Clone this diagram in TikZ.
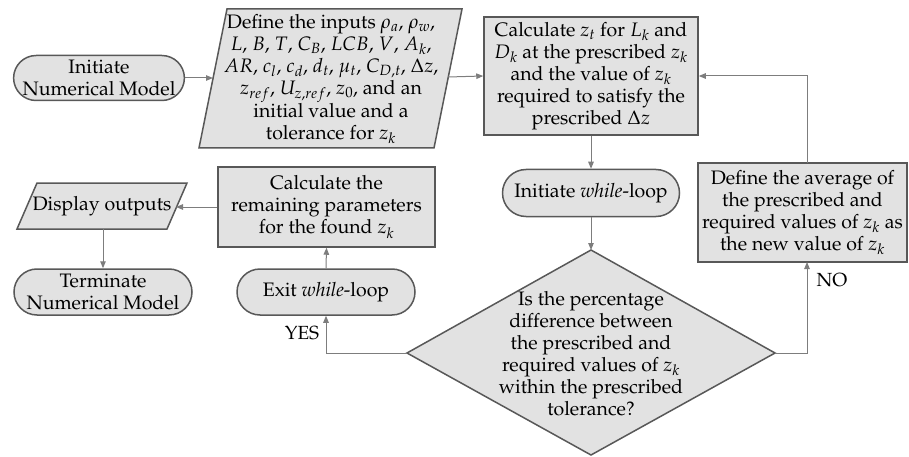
\documentclass[tikz,border=0pt]{standalone}
\usepackage[T1]{fontenc}
\usepackage{mathpazo}
\usetikzlibrary{shapes.misc,arrows.meta}
\definecolor{boxfill}{RGB}{226,226,226}
\definecolor{boxline}{RGB}{88,88,88}
\definecolor{conn}{RGB}{125,125,125}
\begin{document}
\begin{tikzpicture}[x=1pt,y=-1pt,
  every node/.style={font=\fontsize{19.5}{22}\selectfont, text=black},
  shapeline/.style={draw=boxline, line width=1.5pt, fill=boxfill},
  stadium/.style={shapeline, rounded rectangle, minimum width=178pt, minimum height=46pt, inner sep=0pt, align=center},
  procbox/.style={shapeline, rectangle, inner sep=0pt, align=center},
  plain/.style={inner sep=0pt, align=center},
  conline/.style={draw=conn, line width=1pt},
  arr/.style={conline, -{Triangle[length=7pt,width=5.5pt]}},
  lbl/.style={inner sep=0pt, font=\fontsize{19}{20}\selectfont}
]
\path[use as bounding box] (0,0) rectangle (909,457);

% start
\node[stadium, minimum width=170pt, minimum height=45pt] (init) at (99,78) {Initiate\\Numerical Model};

% input parallelogram
\path[shapeline] (227,9) -- (462,9) -- (434,148) -- (199,148) -- cycle;
\node[plain] (inp) at (331,79) {Define the inputs $\rho_a$, $\rho_w$,\\$L$, $B$, $T$, $C_B$, $LCB$, $V$, $A_k$,\\$AR$, $c_l$, $c_d$, $d_t$, $\mu_t$, $C_{D,t}$, $\Delta z$,\\$z_{ref}$, $U_{z,ref}$, $z_0$, and an\\initial value and a\\tolerance for $z_k$};
\coordinate (inpL) at (213,78);
\coordinate (inpR) at (448,77);

% calculate z_t
\node[procbox, minimum width=214pt, minimum height=118pt] (calc) at (591,76) {Calculate $z_t$ for $L_k$ and\\$D_k$ at the prescribed $z_k$\\and the value of $z_k$\\required to satisfy the\\prescribed $\Delta z$};

% while loop
\node[stadium, minimum width=177pt, minimum height=47pt] (while) at (591,193) {Initiate \textit{while}-loop};

% average box
\node[procbox, minimum width=209pt, minimum height=99pt] (avg) at (802.5,212.5) {Define the average of\\the prescribed and\\required values of $z_k$ as\\the new value of $z_k$};
\coordinate (avgT) at (807,163);
\coordinate (avgB) at (807,262);

% decision diamond
\coordinate (dT) at (591,250);
\coordinate (dR) at (775,353);
\coordinate (dB) at (591,455);
\coordinate (dL) at (407,353);
\path[shapeline] (dT) -- (dR) -- (dB) -- (dL) -- cycle;
\node[plain] (dia) at (591,354) {Is the percentage\\difference between\\the prescribed and\\required values of $z_k$\\within the prescribed\\tolerance?};

% exit loop
\node[stadium] (exit) at (326,292) {Exit \textit{while}-loop};

% remaining parameters
\node[procbox, minimum width=217pt, minimum height=80pt] (rem) at (326.5,207) {Calculate the\\remaining parameters\\for the found $z_k$};

% display outputs
\path[shapeline] (37,183) -- (187,183) -- (167,229) -- (17,229) -- cycle;
\node[plain] (disp) at (102,206) {Display outputs};
\coordinate (dispR) at (176,207);
\coordinate (dispB) at (103,229);

% terminate
\node[stadium] (term) at (103,292) {Terminate\\Numerical Model};

% connectors
\draw[arr] (init.east) -- (inpL);
\draw[arr] (inpR) -- (calc.west);
\draw[arr] (calc.south) -- (while.north);
\draw[arr] (while.south) -- (dT);
\draw[arr] (dR) -| (avgB);
\draw[arr] (avgT) |- (calc.east);
\draw[arr] (dL) -| (exit.south);
\draw[arr] (exit.north) -- (rem.south);
\draw[arr] (rem.west) -- (dispR);
\draw[arr] (dispB) -- (term.north);

% labels
\node[lbl] (yes) at (302,333) {YES};
\node[lbl] (no) at (832,280) {NO};
\end{tikzpicture}
\end{document}
